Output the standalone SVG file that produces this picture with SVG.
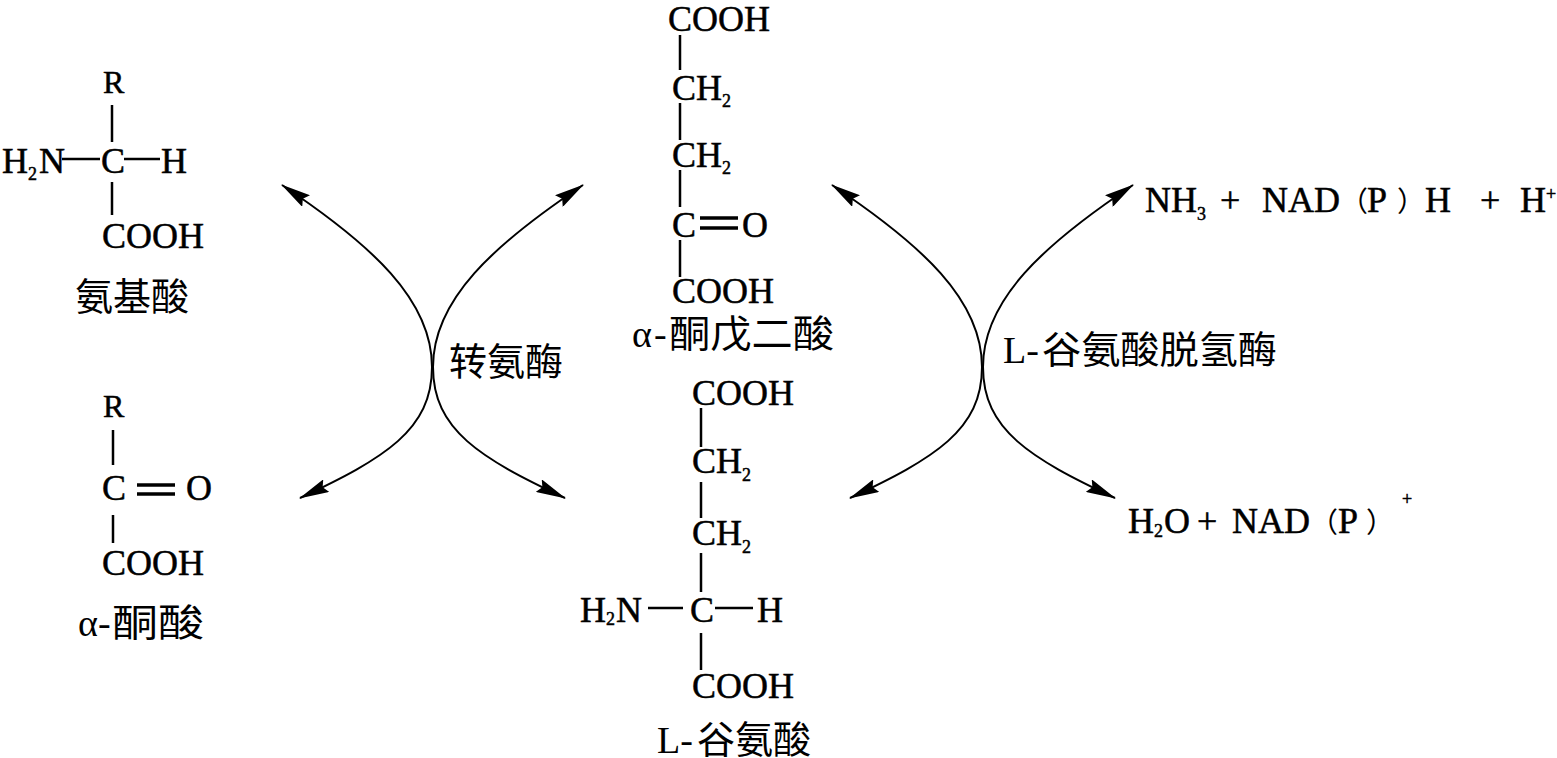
<svg xmlns="http://www.w3.org/2000/svg" width="1557" height="758" viewBox="0 0 1557 758">
<style>
text { font-family: "Liberation Serif", "Noto Sans CJK SC", serif; font-size: 36px; fill: #000; }
.chem { stroke: #000; stroke-width: 0.5; }
.cn { font-size: 38px; }
.r { font-size: 32px; }
.sub { font-size: 18px; }
.sup { font-size: 18px; }
.par { font-size: 28px; stroke: none; }
.bond { stroke: #000; stroke-width: 2.5; fill: none; }
.dbl { stroke: #000; stroke-width: 3.5; fill: none; }
.arc { stroke: #000; stroke-width: 2; fill: none; marker-start: url(#ah-start); marker-end: url(#ah-end); }
</style>
<defs>
<marker id="ah-end" viewBox="0 0 30 14" refX="29" refY="7" markerWidth="30" markerHeight="14" markerUnits="userSpaceOnUse" orient="auto">
<path d="M0,0 L30,7 L0,14 L4,7 Z" fill="#000"/>
</marker>
<marker id="ah-start" viewBox="0 0 30 14" refX="29" refY="7" markerWidth="30" markerHeight="14" markerUnits="userSpaceOnUse" orient="auto-start-reverse">
<path d="M0,0 L30,7 L0,14 L4,7 Z" fill="#000"/>
</marker>
</defs>
<rect width="1557" height="758" fill="#fff"/>

<g id="connectors">
<path class="arc" d="M282,185 C372,245 432,300 432,367 C432,430 385,458 300,498"/>
<path class="arc" d="M583,185 C493,245 433,300 433,367 C433,430 480,458 565,498"/>
<path class="arc" d="M832,185 C922,245 982,300 982,367 C982,430 935,458 850,498"/>
<path class="arc" d="M1133,185 C1043,245 983,300 983,367 C983,430 1030,458 1115,498"/>
</g>

<g id="amino-acid">
<text class="chem r" x="103" y="93">R</text>
<line class="bond" x1="112" y1="105" x2="112" y2="142"/>
<text class="chem" x="2" y="173">H<tspan class="sub" dy="7">2</tspan><tspan x="39" dy="-7">N</tspan></text>
<line class="bond" x1="62" y1="159" x2="100" y2="159"/>
<text class="chem" x="101" y="173">C</text>
<line class="bond" x1="124" y1="159" x2="160" y2="159"/>
<text class="chem" x="161" y="173">H</text>
<line class="bond" x1="112" y1="182" x2="112" y2="215"/>
<text class="chem" x="102" y="248">COOH</text>
<text class="cn" x="75" y="310">氨基酸</text>
</g>

<g id="alpha-keto-acid">
<text class="chem r" x="103" y="417">R</text>
<line class="bond" x1="113" y1="430" x2="113" y2="465"/>
<text class="chem" x="102" y="500">C</text>
<line class="dbl" x1="137" y1="485" x2="175" y2="485"/>
<line class="dbl" x1="137" y1="494" x2="175" y2="494"/>
<text class="chem" x="186" y="500">O</text>
<line class="bond" x1="113" y1="515" x2="113" y2="543"/>
<text class="chem" x="102" y="575">COOH</text>
<text class="cn" x="78" y="636">α<tspan x="98">-</tspan></text>
<text class="cn" x="112" y="636" textLength="92" lengthAdjust="spacingAndGlyphs">酮酸</text>
</g>

<g id="alpha-ketoglutarate">
<text class="chem" x="668" y="31">COOH</text>
<line class="bond" x1="680" y1="35" x2="680" y2="70"/>
<text class="chem" x="672" y="100">CH<tspan class="sub" dy="7">2</tspan></text>
<line class="bond" x1="680" y1="103" x2="680" y2="140"/>
<text class="chem" x="672" y="167">CH<tspan class="sub" dy="7">2</tspan></text>
<line class="bond" x1="680" y1="170" x2="680" y2="207"/>
<text class="chem" x="672" y="237">C</text>
<line class="dbl" x1="700" y1="218" x2="738" y2="218"/>
<line class="dbl" x1="700" y1="228" x2="738" y2="228"/>
<text class="chem" x="742" y="237">O</text>
<line class="bond" x1="680" y1="240" x2="680" y2="277"/>
<text class="chem" x="672" y="303">COOH</text>
<text class="cn" x="632" y="347">α<tspan x="654">-</tspan></text>
<text class="cn" x="669" y="347" textLength="165" lengthAdjust="spacingAndGlyphs">酮戊二酸</text>
</g>

<g id="l-glutamate">
<text class="chem" x="692" y="405">COOH</text>
<line class="bond" x1="701" y1="408" x2="701" y2="447"/>
<text class="chem" x="692" y="473">CH<tspan class="sub" dy="8">2</tspan></text>
<line class="bond" x1="701" y1="482" x2="701" y2="518"/>
<text class="chem" x="692" y="545">CH<tspan class="sub" dy="8">2</tspan></text>
<line class="bond" x1="701" y1="553" x2="701" y2="592"/>
<text class="chem" x="580" y="622">H<tspan class="sub" dy="3">2</tspan><tspan x="616" dy="-3">N</tspan></text>
<line class="bond" x1="648" y1="608" x2="683" y2="608"/>
<text class="chem" x="690" y="622">C</text>
<line class="bond" x1="715" y1="608" x2="753" y2="608"/>
<text class="chem" x="757" y="622">H</text>
<line class="bond" x1="701" y1="633" x2="701" y2="670"/>
<text class="chem" x="692" y="698">COOH</text>
<text class="cn" x="657" y="753">L-<tspan x="697">谷氨酸</tspan></text>
</g>

<g id="transaminase-label">
<text class="cn" x="449" y="375">转氨酶</text>
</g>

<g id="dehydrogenase-label">
<text class="cn" x="1003" y="363">L-</text>
<text class="cn" x="1042" y="363" textLength="235" lengthAdjust="spacingAndGlyphs">谷氨酸脱氢酶</text>
</g>

<g id="products-top">
<text class="chem" x="1145" y="212">NH<tspan class="sub" dy="8">3</tspan><tspan x="1220" dy="-8">+</tspan><tspan x="1262">NAD</tspan><tspan class="par" x="1340">（</tspan><tspan x="1367">P</tspan><tspan class="par" x="1397">）</tspan><tspan x="1425">H</tspan><tspan x="1480">+</tspan><tspan x="1520">H</tspan><tspan class="sup" dy="-12">+</tspan></text>
</g>

<g id="products-bottom">
<text class="chem" x="1128" y="533">H<tspan class="sub" dy="4">2</tspan><tspan x="1164" dy="-4">O</tspan><tspan x="1197">+</tspan><tspan x="1232">NAD</tspan><tspan class="par" x="1310">（</tspan><tspan x="1338">P</tspan><tspan class="par" x="1366">）</tspan><tspan class="sup" x="1402" dy="-28">+</tspan></text>
</g>
</svg>
